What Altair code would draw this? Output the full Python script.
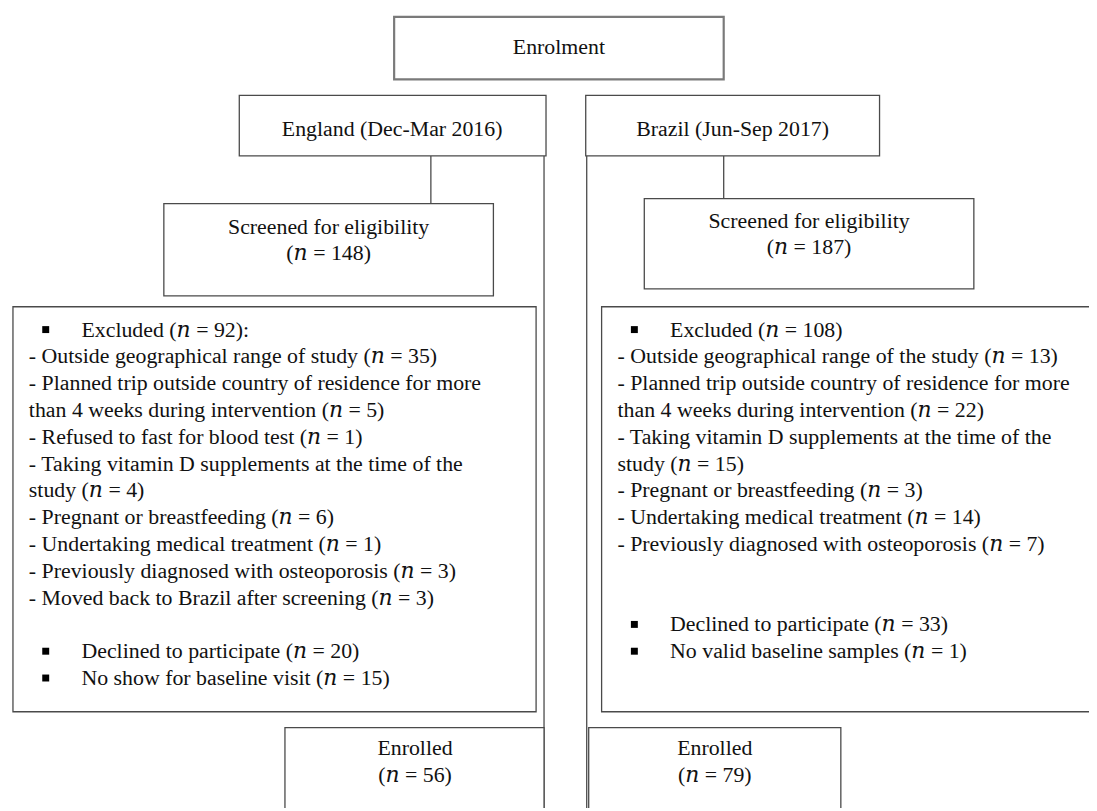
import altair as alt
import pandas as pd

# ---------------- data ----------------
top_label = "Enrolment"
countries = ["England (Dec-Mar 2016)", "Brazil (Jun-Sep 2017)"]
screened_label = "Screened for eligibility"
screened_n = [148, 187]
excluded_n = [92, 108]
excluded_suffix = [":", ""]

england_reasons = [
    "Outside geographical range of study",
    "Planned trip outside country of residence for more\nthan 4 weeks during intervention",
    "Refused to fast for blood test",
    "Taking vitamin D supplements at the time of the\nstudy",
    "Pregnant or breastfeeding",
    "Undertaking medical treatment",
    "Previously diagnosed with osteoporosis",
    "Moved back to Brazil after screening",
]
england_reason_n = [35, 5, 1, 4, 6, 1, 3, 3]

brazil_reasons = [
    "Outside geographical range of the study",
    "Planned trip outside country of residence for more\nthan 4 weeks during intervention",
    "Taking vitamin D supplements at the time of the\nstudy",
    "Pregnant or breastfeeding",
    "Undertaking medical treatment",
    "Previously diagnosed with osteoporosis",
]
brazil_reason_n = [13, 22, 15, 3, 14, 7]

england_other = ["Declined to participate", "No show for baseline visit"]
england_other_n = [20, 15]
brazil_other = ["Declined to participate", "No valid baseline samples"]
brazil_other_n = [33, 1]

enrolled_label = "Enrolled"
enrolled_n = [56, 79]

N = "\U0001D45B"  # italic n


def ntxt(n):
    return f"({N} = {n})"


# ---------------- layout ----------------
FONT = "Liberation Serif, DejaVu Serif, serif"
FS = 22
STEP = 27

boxes = pd.DataFrame([
    dict(x=241, x2=550, y=93, y2=154),
    dict(x=590, x2=886, y=93, y2=154),
    dict(x=165, x2=497, y=202, y2=295),
    dict(x=649, x2=981, y=197, y2=288),
    dict(x=13, x2=540, y=306, y2=714),
    dict(x=606, x2=1120, y=306, y2=714),
    dict(x=287, x2=548, y=730, y2=840),
    dict(x=593, x2=847, y=730, y2=840),
])
top_box = pd.DataFrame([dict(x=397, x2=729, y=14, y2=77)])

rules = pd.DataFrame([
    dict(x=434, x2=434, y=154, y2=202),
    dict(x=729, x2=729, y=154, y2=197),
    dict(x=548, x2=548, y=154, y2=811),
    dict(x=591, x2=591, y=154, y2=811),
])

center_rows = [
    (563, 44, top_label),
    (395, 127, countries[0]),
    (738, 127, countries[1]),
    (331, 226, screened_label),
    (331, 252, ntxt(screened_n[0])),
    (815, 220, screened_label),
    (815, 246, ntxt(screened_n[1])),
    (418, 751, enrolled_label),
    (418, 778, ntxt(enrolled_n[0])),
    (720, 751, enrolled_label),
    (720, 778, ntxt(enrolled_n[1])),
]
center_df = pd.DataFrame(center_rows, columns=["x", "y", "text"])

left_rows = []
bullet_rows = []


def build(i, box_left, y0, reasons, reason_n, other, other_n, other_index):
    dash_x = box_left + 16
    bul_x = box_left + 33
    btxt_x = box_left + 69
    bullet_rows.append((bul_x, y0))
    left_rows.append((btxt_x, y0, f"Excluded ({N} = {excluded_n[i]}){excluded_suffix[i]}"))
    k = 1
    for lab, n in zip(reasons, reason_n):
        parts = lab.split("\n")
        for j, p in enumerate(parts):
            t = ("- " if j == 0 else "") + p
            if j == len(parts) - 1:
                t += f" {ntxt(n)}"
            left_rows.append((dash_x, y0 + k * STEP, t))
            k += 1
    for j, (lab, n) in enumerate(zip(other, other_n)):
        yy = y0 + (other_index + j) * STEP
        bullet_rows.append((bul_x, yy))
        left_rows.append((btxt_x, yy, f"{lab} {ntxt(n)}"))


build(0, 13, 329, england_reasons, england_reason_n, england_other, england_other_n, 12)
build(1, 606, 329, brazil_reasons, brazil_reason_n, brazil_other, brazil_other_n, 11)

left_df = pd.DataFrame(left_rows, columns=["x", "y", "text"])
bullet_df = pd.DataFrame(bullet_rows, columns=["x", "y"])

# ---------------- chart ----------------
W, H = 1089, 803
xs = alt.Scale(domain=[8, 1097], nice=False, zero=False)
ys = alt.Scale(domain=[8, 811], nice=False, zero=False, reverse=True)

X = alt.X("x:Q", scale=xs, axis=None)
Y = alt.Y("y:Q", scale=ys, axis=None)

rect_layer = alt.Chart(boxes).mark_rect(
    fill="white", stroke="#4a4a4a", strokeWidth=1.3, clip=True
).encode(x=X, x2="x2:Q", y=Y, y2="y2:Q")

top_layer = alt.Chart(top_box).mark_rect(
    fill="white", stroke="#7a7a7a", strokeWidth=2.2, clip=True
).encode(x=X, x2="x2:Q", y=Y, y2="y2:Q")

rule_layer = alt.Chart(rules).mark_rule(
    color="#4a4a4a", strokeWidth=1.3, clip=True
).encode(x=X, x2="x2:Q", y=Y, y2="y2:Q")

center_layer = alt.Chart(center_df).mark_text(
    font=FONT, fontSize=FS, align="center", baseline="middle", color="#111111"
).encode(x=X, y=Y, text="text:N")

left_layer = alt.Chart(left_df).mark_text(
    font=FONT, fontSize=FS, align="left", baseline="middle", color="#111111"
).encode(x=X, y=Y, text="text:N")

bullet_layer = alt.Chart(bullet_df).mark_square(
    size=49, color="#000000", opacity=1
).encode(x=X, y=Y)

chart = alt.layer(
    rule_layer, rect_layer, top_layer, center_layer, left_layer, bullet_layer
).properties(
    width=W, height=H, autosize=alt.AutoSizeParams(type="none"), padding=0,
    background="white"
).configure_view(stroke=None)

chart.save("out.html", embed_options={"renderer": "svg", "actions": False})
